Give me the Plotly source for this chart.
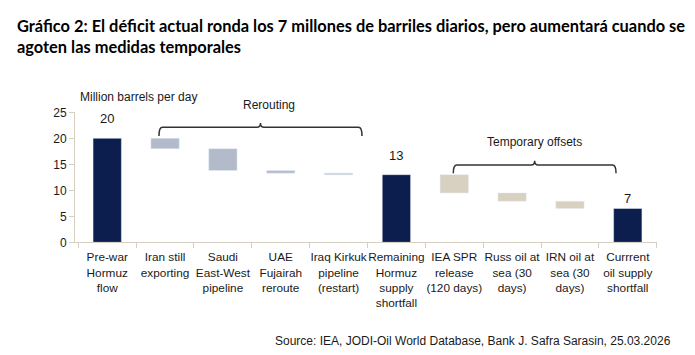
import plotly.graph_objects as go

# ---- data ----
categories = [
    "Pre-war<br>Hormuz<br>flow",
    "Iran still<br>exporting",
    "Saudi<br>East-West<br>pipeline",
    "UAE<br>Fujairah<br>reroute",
    "Iraq Kirkuk<br>pipeline<br>(restart)",
    "Remaining<br>Hormuz<br>supply<br>shortfall",
    "IEA SPR<br>release<br>(120 days)",
    "Russ oil at<br>sea (30<br>days)",
    "IRN oil at<br>sea (30<br>days)",
    "Currrent<br>oil supply<br>shortfall",
]
prewar_flow = 20.0
rerouting_values = [2.0, 4.2, 0.5, 0.3]      # Iran, Saudi, UAE, Iraq
offset_values = [3.5, 1.6, 1.4]              # IEA SPR, Russ, IRN
total_labels = ["20", "13", "7"]
y_ticks = [0, 5, 10, 15, 20, 25]

# ---- derived waterfall levels ----
remaining = prewar_flow - sum(rerouting_values)
current = remaining - sum(offset_values)

rr_cats = categories[1:5]
rr_base = []
lvl = prewar_flow
for v in rerouting_values:
    lvl -= v
    rr_base.append(lvl)

of_cats = categories[6:9]
of_base = []
lvl = remaining
for v in offset_values:
    lvl -= v
    of_base.append(lvl)

tot_cats = [categories[0], categories[5], categories[9]]
tot_vals = [prewar_flow, remaining, current]

NAVY = "#0B1E4D"
GREYBLUE = "#B3BBCB"
BEIGE = "#D8D0C1"
AXIS = "#D6D0C2"
FONT = "Liberation Sans"
TXT = "#1a1a1a"
W, H = 695, 355

fig = go.Figure()
fig.add_trace(go.Bar(x=tot_cats, y=tot_vals, marker_color=NAVY, width=0.49,
                     hoverinfo="skip"))
fig.add_trace(go.Bar(x=rr_cats, y=rerouting_values, base=rr_base,
                     marker_color=GREYBLUE, width=0.49, hoverinfo="skip"))
fig.add_trace(go.Bar(x=of_cats, y=offset_values, base=of_base,
                     marker_color=BEIGE, width=0.49, hoverinfo="skip"))

# value labels above totals
for c, v, t, ys in zip(tot_cats, tot_vals, total_labels, [10, 10, 1]):
    fig.add_annotation(x=c, y=v, xref="x", yref="y", text=t, showarrow=False,
                       yanchor="bottom", yshift=ys,
                       font=dict(family=FONT, size=13, color=TXT))

def py(p):
    return (H - p) / H

def brace(x0, x1, ytop, yend, ypeak):
    xm = (x0 + x1) / 2
    d = 0.06
    path = (f"M {x0},{yend} Q {x0},{ytop} {x0+d},{ytop} "
            f"L {xm-d},{ytop} Q {xm},{ytop} {xm},{ypeak} "
            f"Q {xm},{ytop} {xm+d},{ytop} "
            f"L {x1-d},{ytop} Q {x1},{ytop} {x1},{yend}")
    fig.add_shape(type="path", path=path, xref="x", yref="paper",
                  line=dict(color="#333333", width=1.5))

brace(0.895, 4.405, py(127.3), py(136), py(123))
brace(5.983, 8.797, py(165), py(173.3), py(160.7))

fig.add_annotation(x=(269 - 75) / 57.84 - 0.557, y=py(105), xref="x", yref="paper",
                   yanchor="middle", text="Rerouting", showarrow=False,
                   font=dict(family=FONT, size=12, color=TXT))
fig.add_annotation(x=(534 - 75) / 57.84 - 0.557, y=py(142.3), xref="x", yref="paper",
                   yanchor="middle", text="Temporary offsets", showarrow=False,
                   font=dict(family=FONT, size=12, color=TXT))
fig.add_annotation(x=78 / W, y=py(96.7), xref="paper", yref="paper",
                   xanchor="left", yanchor="middle",
                   text="Million barrels per day", showarrow=False,
                   font=dict(family=FONT, size=12, color=TXT))

# title
fig.add_annotation(x=15 / W, y=py(14), xref="paper", yref="paper",
                   xanchor="left", yanchor="top", align="left",
                   text="<b>Gráfico 2: El déficit actual ronda los 7 millones de barriles diarios, pero aumentará cuando se<br>agoten las medidas temporales</b>",
                   showarrow=False,
                   font=dict(family="Lato", size=16.4, color="#000000"))
# source
fig.add_annotation(x=673 / W, y=py(340.7), xref="paper", yref="paper",
                   xanchor="right", yanchor="middle",
                   text="Source: IEA, JODI-Oil World Database, Bank J. Safra Sarasin, 25.03.2026",
                   showarrow=False,
                   font=dict(family=FONT, size=12, color=TXT))

fig.update_layout(
    width=W, height=H,
    margin=dict(l=0, r=0, t=0, b=0),
    paper_bgcolor="white", plot_bgcolor="white",
    barmode="overlay", showlegend=False,
    font=dict(family=FONT, size=12, color=TXT),
    xaxis=dict(type="category", categoryorder="array", categoryarray=categories,
               range=[-0.557, 9.5], domain=[75 / W, 656.7 / W],
               tickson="boundaries", ticks="outside", ticklen=5, tickcolor=AXIS,
               showline=True, linecolor=AXIS, linewidth=1, showgrid=False,
               zeroline=False, automargin=False, tickangle=0,
               ticklabelstandoff=4,
               tickfont=dict(family=FONT, size=11.8, color=TXT)),
    yaxis=dict(range=[0, 25], domain=[py(242.3), py(112.3)],
               tickvals=y_ticks, ticks="outside", ticklen=5, tickcolor=AXIS,
               showline=True, linecolor=AXIS, linewidth=1, showgrid=False,
               zeroline=False, automargin=False,
               tickfont=dict(family=FONT, size=12, color=TXT)),
)

fig.write_html("out.html", config={"displayModeBar": False},
               post_script="document.body.style.margin='0';document.body.style.overflow='hidden';")
